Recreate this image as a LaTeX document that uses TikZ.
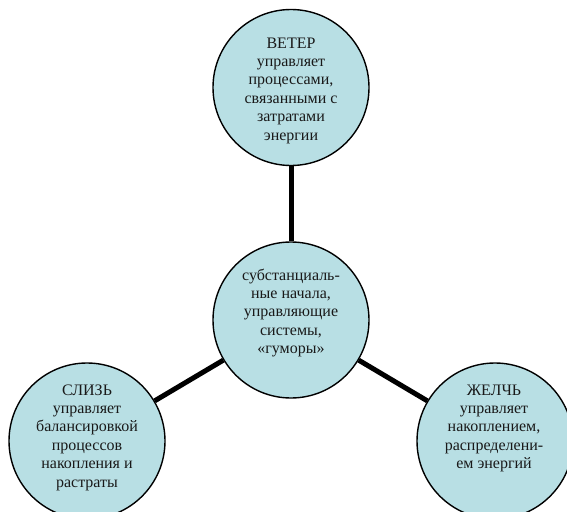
\documentclass[tikz,border=0pt]{standalone}
\usepackage{fontspec}
\setmainfont{Liberation Serif}
\definecolor{humorfill}{RGB}{184,223,228}
\begin{document}
\begin{tikzpicture}[x=1pt,y=-1pt,
  humorcircle/.style={circle,draw=black,line width=1.4pt,fill=humorfill,
    minimum size=156pt,inner sep=0pt},
  humortext/.style={anchor=north,align=center,inner sep=0pt,
    font=\fontsize{16}{18.4}\selectfont,text=black!90},
  link/.style={line width=5pt}]
\useasboundingbox (0,0) rectangle (567,511);

% the four doshas
\node[humorcircle] (wind)   at (291,87.5) {};
\node[humorcircle] (core)   at (291,320)  {};
\node[humorcircle] (mucus)  at (87,441)   {};
\node[humorcircle] (bile)   at (495,441)  {};

% spokes from the centre
\draw[link] (wind) -- (core);
\draw[link] (core) -- (mucus);
\draw[link] (core) -- (bile);

% labels (first baseline given, strut height subtracted)
\node[humortext] (windtext) at (291,48-12.9)
  {\strut ВЕТЕР\\управляет\\процессами,\\связанными с\\затратами\\энергии};
\node[humortext] (coretext) at (291,280-12.9)
  {\strut субстанциаль-\\ные начала,\\управляющие\\системы,\\«гуморы»};
\node[humortext] (mucustext) at (87,395-12.9)
  {\strut СЛИЗЬ\\управляет\\балансировкой\\процессов\\накопления и\\растраты};
\node[humortext] (biletext) at (494,395-12.9)
  {\strut ЖЕЛЧЬ\\управляет\\накоплением,\\распределени-\\ем энергий};
\end{tikzpicture}
\end{document}
